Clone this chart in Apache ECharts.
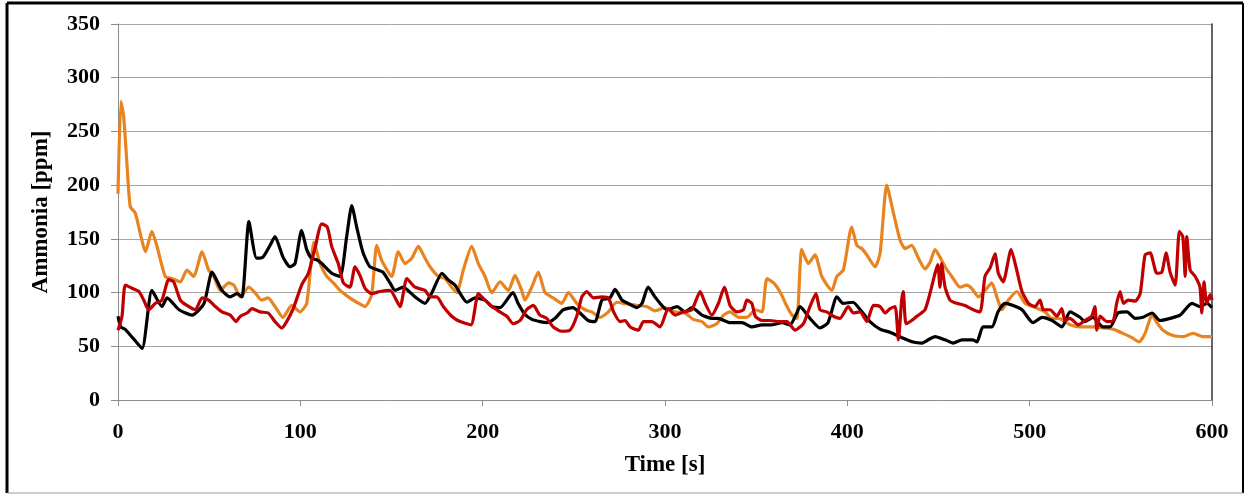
<!DOCTYPE html>
<html>
<head>
<meta charset="utf-8">
<script src="https://cdn.jsdelivr.net/npm/echarts@6/dist/echarts.min.js"></script>
<style>
    html, body { margin: 0; padding: 0; background: #fff; }
    #chart { width: 1247px; height: 496px; }
</style>
</head>
<body>
<div id="chart"></div>
<script>
// tick labels
var xTicks = [0, 100, 200, 300, 400, 500, 600];
var yTicks = [0, 50, 100, 150, 200, 250, 300, 350];

// black series
var blackTime = [0, 1.5, 3.8, 8, 13.2, 18.6, 24.1, 26.9, 33.5, 40.6, 47.2, 51.6, 57, 61.4, 65.3, 68, 71.8, 76, 79.5, 83.4, 86.1, 90.5, 94.3, 97.1, 100.7, 103.5, 106.2, 109.7, 112.4, 117.2, 121.8, 125.4, 128.2, 130.9, 134.4, 138.2, 142.6, 145.3, 149.2, 151.9, 156.3, 162.9, 168.4, 172.2, 177.7, 181, 184.8, 191.4, 195.8, 201.3, 205.1, 209.5, 216.6, 219.4, 223, 227, 231.4, 235.3, 239.7, 244.1, 249.5, 253.4, 257.8, 261.6, 265.4, 269.8, 272.6, 276.4, 279.7, 284.6, 287.4, 290.7, 294.5, 297.3, 301.1, 306.6, 311, 314.8, 320.3, 325.8, 329.1, 335.7, 342.2, 347.7, 353.2, 358.7, 364.2, 368.6, 372, 374, 379.5, 385, 389.4, 394.3, 397.6, 403.1, 408, 412.4, 417.9, 423.4, 430, 436, 441, 445.3, 448.1, 453.6, 458, 462.9, 468.9, 471.1, 474.4, 479.3, 482.6, 486.5, 490.9, 495.8, 501.8, 506.8, 512.3, 517.7, 522.1, 527.6, 530.3, 534.7, 540.2, 544.1, 548.4, 553.4, 557.8, 562.2, 567.1, 571.5, 577, 582.5, 589, 593.4, 597.3, 600];
var blackVals = [78, 68, 66, 58, 48, 102, 87, 95, 84, 79, 90, 119, 102, 96, 99, 96, 166, 132, 133, 144, 152, 133, 124, 127, 158, 140, 132, 130, 126, 118, 115, 152, 181, 161, 137, 124, 121, 119, 109, 102, 105, 96, 90, 100, 118, 112, 107, 91, 95, 93, 87, 86, 100, 90, 80, 75, 73, 72, 76, 84, 86, 81, 74, 73, 93, 95, 103, 93, 90, 86, 90, 105, 96, 90, 84, 87, 82, 86, 79, 76, 76, 72, 72, 68, 70, 70, 72, 70, 80, 87, 76, 67, 72, 96, 90, 91, 82, 73, 66, 63, 58, 54, 53, 57, 59, 56, 53, 56, 56, 54, 68, 68, 82, 90, 88, 84, 72, 77, 74, 68, 82, 77, 73, 77, 68, 68, 81, 82, 76, 77, 81, 74, 76, 79, 90, 87, 90, 86];

// orange series
var orangeTime = [0, 1.6, 3.1, 4.9, 6.7, 9.5, 12.2, 15, 18.6, 21.4, 25.9, 29.6, 34.2, 37.8, 41.5, 46.1, 49.7, 52.5, 56.1, 60.7, 63.5, 67.1, 71.7, 75.1, 78.8, 82.3, 86.1, 90.5, 95.3, 99.8, 103.5, 107.5, 110.8, 114.5, 118.1, 121.8, 126.3, 130.9, 135.5, 139.1, 141.9, 144.6, 150.1, 153.7, 157.4, 161.1, 164.7, 168.4, 171.1, 175.7, 179.3, 183, 185.8, 189.4, 194, 197.6, 201.3, 205, 209.5, 214.1, 217.7, 221.4, 223.2, 226.9, 230.5, 234.2, 238.7, 243.4, 247, 251.6, 256.1, 259.8, 264.4, 268.9, 273.5, 277.2, 284.5, 290, 294.5, 300, 305.5, 311, 315.5, 320.2, 323.8, 328.4, 332.1, 335.7, 340.3, 344.9, 349.5, 353.2, 355.9, 359.6, 363.3, 366.9, 369.7, 372.3, 375, 378.6, 382.3, 386, 391.5, 394.2, 397.8, 402.4, 405.2, 407.9, 410.7, 415.2, 418, 421.6, 425.3, 428.9, 431.7, 435.3, 439, 442.6, 445.3, 448.1, 450.8, 453.6, 457.3, 461.8, 465.5, 468.2, 471.9, 475.5, 479.2, 482, 484.7, 488.3, 493, 497.5, 503, 508.4, 512.1, 516, 519.4, 522.1, 527.6, 534.7, 540.2, 545.7, 551.2, 556.1, 560, 563.3, 567.1, 569.8, 573.1, 578.6, 584.1, 589.6, 595.1, 600];
var orangeVals = [192, 278, 264, 220, 180, 174, 155, 138, 157, 143, 115, 113, 110, 121, 115, 138, 121, 115, 102, 109, 107, 96, 105, 100, 93, 95, 87, 77, 88, 82, 90, 147, 127, 115, 109, 102, 96, 91, 87, 98, 144, 130, 115, 138, 127, 132, 143, 132, 124, 115, 113, 105, 100, 121, 143, 127, 115, 100, 110, 102, 116, 102, 93, 105, 119, 100, 95, 90, 100, 90, 84, 82, 77, 82, 91, 90, 88, 87, 83, 86, 82, 81, 75, 73, 68, 71, 79, 82, 77, 77, 84, 82, 113, 109, 100, 87, 79, 76, 140, 127, 135, 115, 102, 115, 121, 161, 144, 141, 135, 124, 137, 200, 174, 149, 141, 144, 132, 122, 128, 140, 133, 124, 115, 105, 107, 104, 96, 102, 109, 96, 84, 93, 101, 90, 86, 82, 76, 76, 73, 70, 68, 68, 67, 66, 62, 58, 54, 62, 79, 72, 65, 60, 59, 62, 59, 59];

// red series
var redTime = [0, 2.2, 4, 7.7, 11.4, 14.1, 16.8, 20.5, 24.1, 27.8, 30.5, 34.2, 37.8, 42.4, 46.1, 49.7, 53.4, 57, 61.6, 64.7, 67.1, 70.8, 73.5, 77.9, 82.4, 86.1, 89.8, 92.5, 96.1, 100.7, 104.4, 108, 111.7, 114.8, 117.2, 120.8, 123.6, 127.2, 130, 132.7, 135.5, 139.1, 143.7, 149.2, 154.7, 158.4, 162.9, 168.4, 171.1, 174.8, 178.4, 183, 187.6, 193.6, 197.6, 201.3, 205, 209.5, 213.2, 216.8, 220.5, 224.1, 227.8, 231.4, 235.1, 238.7, 243.4, 247.9, 251.6, 254.4, 257.1, 260.8, 265.4, 269, 271.8, 275.4, 278.1, 280.9, 285.4, 288.2, 292.8, 297.3, 301.8, 305.5, 310.1, 314.7, 319.3, 322, 325.7, 329.3, 332.6, 335.7, 339.4, 343, 344.9, 347.6, 349.5, 353.2, 357.7, 362.3, 366.9, 371.3, 375.9, 379.5, 382.8, 385, 388.7, 392.3, 396, 400.5, 403.3, 407, 410.7, 414.3, 418, 420.7, 423.4, 426.2, 428, 429.8, 430.7, 432.2, 435.3, 439, 442.6, 445.3, 448.1, 449.6, 450.8, 451.7, 453.6, 456.3, 460, 464.5, 469.1, 472.8, 475.5, 478.3, 481, 482.8, 485.5, 489.8, 492.9, 495.6, 499.3, 503, 505.7, 507.5, 511.2, 514.9, 517.6, 519.4, 522.1, 526.7, 530.3, 534, 535.8, 536.8, 538.6, 542.3, 545.9, 547.7, 549.6, 551.4, 554.1, 557.8, 560.6, 563.3, 566.1, 569.7, 572.5, 574.8, 577, 579.8, 582.1, 584, 585.3, 586.2, 588, 590.8, 593.4, 594.4, 595.6, 597.1, 599, 600];
var redVals = [65, 78, 107, 104, 101, 93, 84, 90, 93, 112, 110, 93, 88, 84, 95, 93, 87, 82, 79, 73, 78, 81, 85, 82, 81, 73, 67, 73, 85, 107, 118, 141, 164, 161, 143, 127, 109, 105, 124, 116, 104, 99, 101, 102, 87, 113, 105, 102, 96, 96, 87, 78, 73, 70, 99, 93, 87, 82, 78, 71, 74, 84, 88, 79, 76, 68, 64, 65, 78, 96, 101, 95, 96, 95, 82, 73, 74, 68, 65, 73, 73, 68, 85, 79, 82, 84, 101, 90, 79, 90, 105, 88, 82, 84, 93, 90, 78, 74, 74, 73, 73, 65, 71, 87, 99, 84, 82, 78, 76, 87, 81, 82, 73, 88, 87, 81, 85, 87, 56, 93, 101, 71, 74, 79, 84, 99, 118, 126, 105, 127, 105, 93, 90, 88, 84, 82, 115, 123, 136, 118, 110, 140, 121, 102, 90, 87, 93, 84, 84, 78, 85, 74, 76, 70, 74, 78, 87, 65, 78, 73, 74, 90, 101, 90, 93, 92, 99, 135, 137, 118, 119, 137, 119, 107, 157, 152, 115, 152, 121, 115, 105, 81, 110, 90, 98, 93];

function pairs(t, v) {
    var out = [];
    for (var i = 0; i < t.length; i++) out.push([t[i], v[i]]);
    return out;
}

var myChart = echarts.init(document.getElementById('chart'));
var serifBold = { fontFamily: 'Liberation Serif', fontWeight: 'bold', color: '#000' };

var option = {
    backgroundColor: '#fff',
    animation: false,
    grid: { left: 118, right: 35, top: 24, bottom: 96 },
    xAxis: {
        type: 'value', min: 0, max: 600, interval: 100,
        name: 'Time [s]', nameLocation: 'middle', nameGap: 54,
        nameTextStyle: Object.assign({ fontSize: 23 }, serifBold),
        axisLine: { lineStyle: { color: '#8c8c8c', width: 1 } },
        axisTick: { show: true, length: 6, lineStyle: { color: '#8c8c8c' } },
        axisLabel: Object.assign({ fontSize: 22, margin: 21,
            formatter: function (v) { return xTicks.indexOf(v) >= 0 ? v : ''; } }, serifBold),
        splitLine: { show: false }
    },
    yAxis: [{
        type: 'value', min: 0, max: 350, interval: 50,
        name: 'Ammonia [ppm]', nameLocation: 'middle', nameGap: 65,
        nameTextStyle: Object.assign({ fontSize: 23 }, serifBold),
        axisLine: { show: true, lineStyle: { color: '#8c8c8c', width: 1 } },
        axisTick: { show: true, length: 7, lineStyle: { color: '#8c8c8c' } },
        axisLabel: Object.assign({ fontSize: 22, margin: 18,
            formatter: function (v) { return yTicks.indexOf(v) >= 0 ? v : ''; } }, serifBold),
        splitLine: { show: true, lineStyle: { color: '#a6a6a6', width: 1 } }
    }, {
        type: 'value', min: 0, max: 350, interval: 50, position: 'right',
        axisLine: { show: true, lineStyle: { color: '#333', width: 1.5 } },
        axisTick: { show: false }, axisLabel: { show: false }, splitLine: { show: false }
    }],
    series: [{
        name: 'orange', type: 'line', showSymbol: false, smooth: 0.2,
        lineStyle: { color: '#e8831f', width: 3.2 },
        data: pairs(orangeTime, orangeVals)
    }, {
        name: 'black', type: 'line', showSymbol: false, smooth: 0.2,
        lineStyle: { color: '#000', width: 3.2 },
        data: pairs(blackTime, blackVals)
    }, {
        name: 'red', type: 'line', showSymbol: false, smooth: 0.2,
        lineStyle: { color: '#c00000', width: 3.2 },
        data: pairs(redTime, redVals)
    }],
    graphic: [
        { type: 'line', shape: { x1: 7, y1: 3, x2: 1243, y2: 3 }, style: { stroke: '#000', lineWidth: 3 } },
        { type: 'line', shape: { x1: 7, y1: 3, x2: 7, y2: 493 }, style: { stroke: '#000', lineWidth: 3 } },
        { type: 'line', shape: { x1: 1243, y1: 3, x2: 1243, y2: 493 }, style: { stroke: '#000', lineWidth: 2 } },
        { type: 'line', shape: { x1: 7, y1: 493, x2: 1243, y2: 493 }, style: { stroke: '#9a9a9a', lineWidth: 1 } }
    ]
};

myChart.setOption(option);
window.addEventListener("resize", function () {
    myChart.resize();
});
</script>
</body>
</html>
